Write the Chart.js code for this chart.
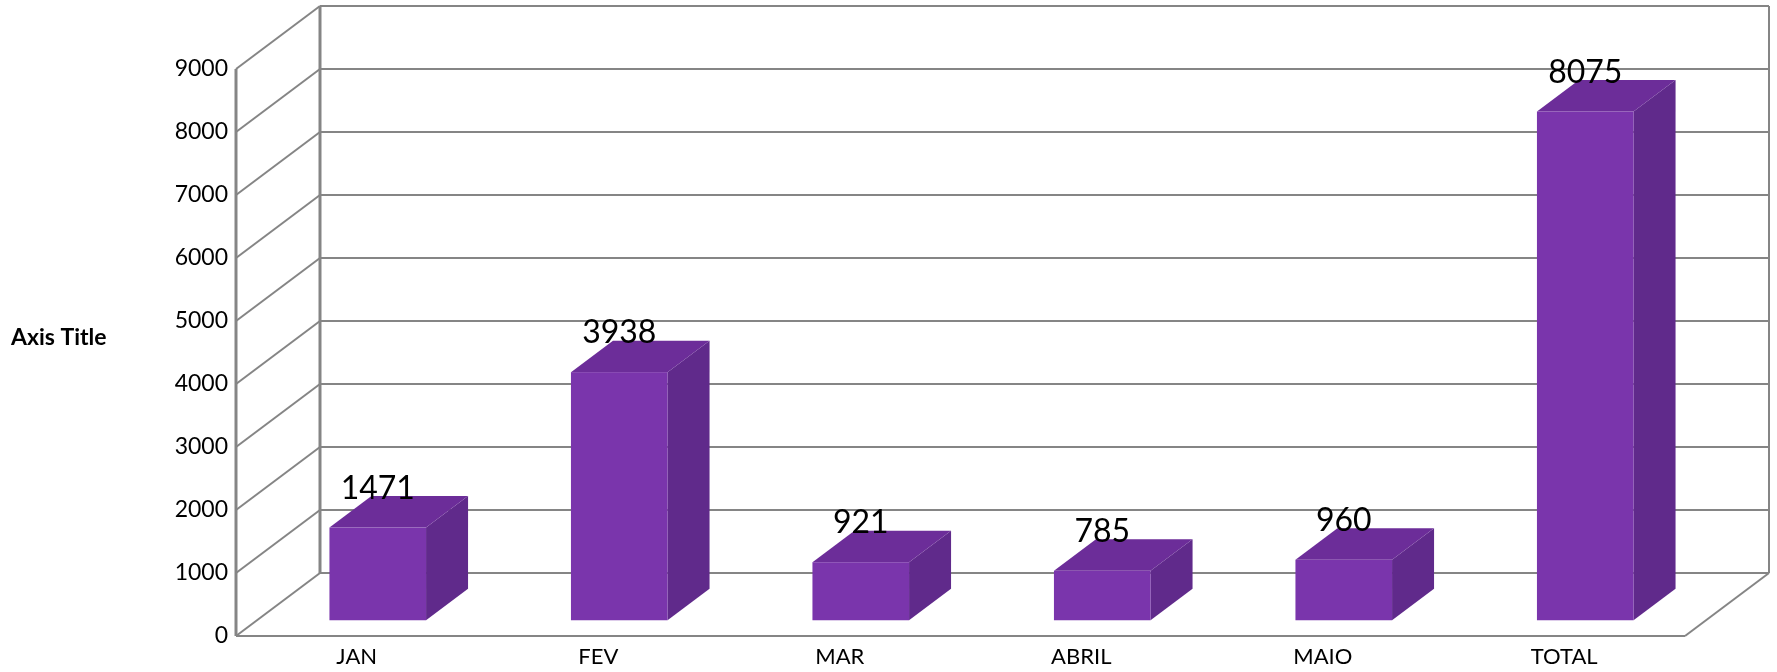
<!DOCTYPE html>
<html lang="pt">
<head>
    <meta charset="UTF-8">
    <title>Chart</title>
    <style>
        html, body { margin: 0; padding: 0; background: #fff; }
        #wrap { width: 1777px; height: 672px; }
    </style>
</head>
<body>
    <div id="wrap"><canvas id="chart" width="1777" height="672"></canvas></div>

    <script src="https://cdn.jsdelivr.net/npm/chart.js"></script>
    <script>
        const categories = ['JAN', 'FEV', 'MAR', 'ABRIL', 'MAIO', 'TOTAL'];
        const values = [1471, 3938, 921, 785, 960, 8075];
        const yTitle = 'Axis Title';

        // depth of the 3d walls, in pixels
        const DX = 84, DY = 63;
        const gridColor = '#858585';
        const faceFront = '#7a35ac';
        const faceTop = '#6c2d99';
        const faceSide = '#602a8b';
        const fontFamily = 'Lato, "Open Sans", sans-serif';

        function line(ctx, x1, y1, x2, y2) {
            ctx.beginPath();
            ctx.moveTo(x1, y1);
            ctx.lineTo(x2, y2);
            ctx.stroke();
        }

        const walls = {
            id: 'walls',
            beforeDatasetsDraw(chart) {
                const ctx = chart.ctx;
                const area = chart.chartArea;
                const y = chart.scales.y;
                const top = y.getPixelForValue(y.max);
                const base = y.getPixelForValue(0);
                ctx.save();
                ctx.strokeStyle = gridColor;
                ctx.lineWidth = 2;
                y.ticks.forEach(t => {
                    const py = y.getPixelForValue(t.value);
                    line(ctx, area.left + DX, py - DY, area.right + DX, py - DY);
                    line(ctx, area.left, py, area.left + DX, py - DY);
                });
                // floor edges and right back edge
                line(ctx, area.left, base, area.right, base);
                line(ctx, area.right, base, area.right + DX, base - DY);
                line(ctx, area.right + DX, base - DY, area.right + DX, top - DY);
                ctx.lineWidth = 3;
                line(ctx, area.left, base, area.left, top);
                line(ctx, area.left + DX, base - DY, area.left + DX, top - DY);
                ctx.restore();

                ctx.save();
                ctx.fillStyle = '#000';
                ctx.font = 'bold 23px ' + fontFamily;
                ctx.textAlign = 'left';
                ctx.textBaseline = 'middle';
                ctx.fillText(yTitle, 11, 338);
                ctx.restore();
            }
        };

        const boxes = {
            id: 'boxes',
            afterDatasetsDraw(chart) {
                const ctx = chart.ctx;
                const meta = chart.getDatasetMeta(0);
                const ox = DX * 0.25, oy = -DY * 0.25;
                const bx = DX * 0.5, by = -DY * 0.5;
                ctx.save();
                meta.data.forEach((bar, i) => {
                    const l = bar.x - bar.width / 2 + ox;
                    const r = bar.x + bar.width / 2 + ox;
                    const t = bar.y + oy;
                    const b = bar.base + oy;
                    // side
                    ctx.fillStyle = faceSide;
                    ctx.beginPath();
                    ctx.moveTo(r, t); ctx.lineTo(r + bx, t + by);
                    ctx.lineTo(r + bx, b + by); ctx.lineTo(r, b);
                    ctx.closePath(); ctx.fill();
                    // top
                    ctx.fillStyle = faceTop;
                    ctx.beginPath();
                    ctx.moveTo(l, t); ctx.lineTo(l + bx, t + by);
                    ctx.lineTo(r + bx, t + by); ctx.lineTo(r, t);
                    ctx.closePath(); ctx.fill();
                    // front
                    ctx.fillStyle = faceFront;
                    ctx.fillRect(l, t, r - l, b - t);

                    ctx.fillStyle = '#000';
                    ctx.font = '32px ' + fontFamily;
                    ctx.textAlign = 'center';
                    ctx.textBaseline = 'alphabetic';
                    ctx.fillText(String(values[i]), (l + r) / 2, t - 29);
                });
                ctx.restore();
            }
        };

        new Chart(document.getElementById('chart'), {
            type: 'bar',
            data: {
                labels: categories,
                datasets: [{
                    data: values,
                    backgroundColor: 'rgba(0,0,0,0)',
                    categoryPercentage: 1,
                    barPercentage: 0.4
                }]
            },
            options: {
                responsive: false,
                animation: false,
                events: [],
                layout: { padding: { top: 69, right: 92, left: 0, bottom: 0 } },
                plugins: { legend: { display: false }, tooltip: { enabled: false } },
                scales: {
                    x: {
                        grid: { display: false, drawTicks: false },
                        border: { display: false },
                        ticks: { color: '#000', font: { family: fontFamily, size: 22 }, padding: 8 },
                        afterFit(s) { s.height = 36; }
                    },
                    y: {
                        min: 0,
                        max: 9000,
                        grid: { display: false, drawTicks: false },
                        border: { display: false },
                        ticks: {
                            stepSize: 1000,
                            color: '#000',
                            font: { family: fontFamily, size: 23 },
                            padding: 8,
                            callback: v => String(v)
                        },
                        afterFit(s) { s.width = 236; }
                    }
                }
            },
            plugins: [walls, boxes]
        });
    </script>
</body>
</html>
